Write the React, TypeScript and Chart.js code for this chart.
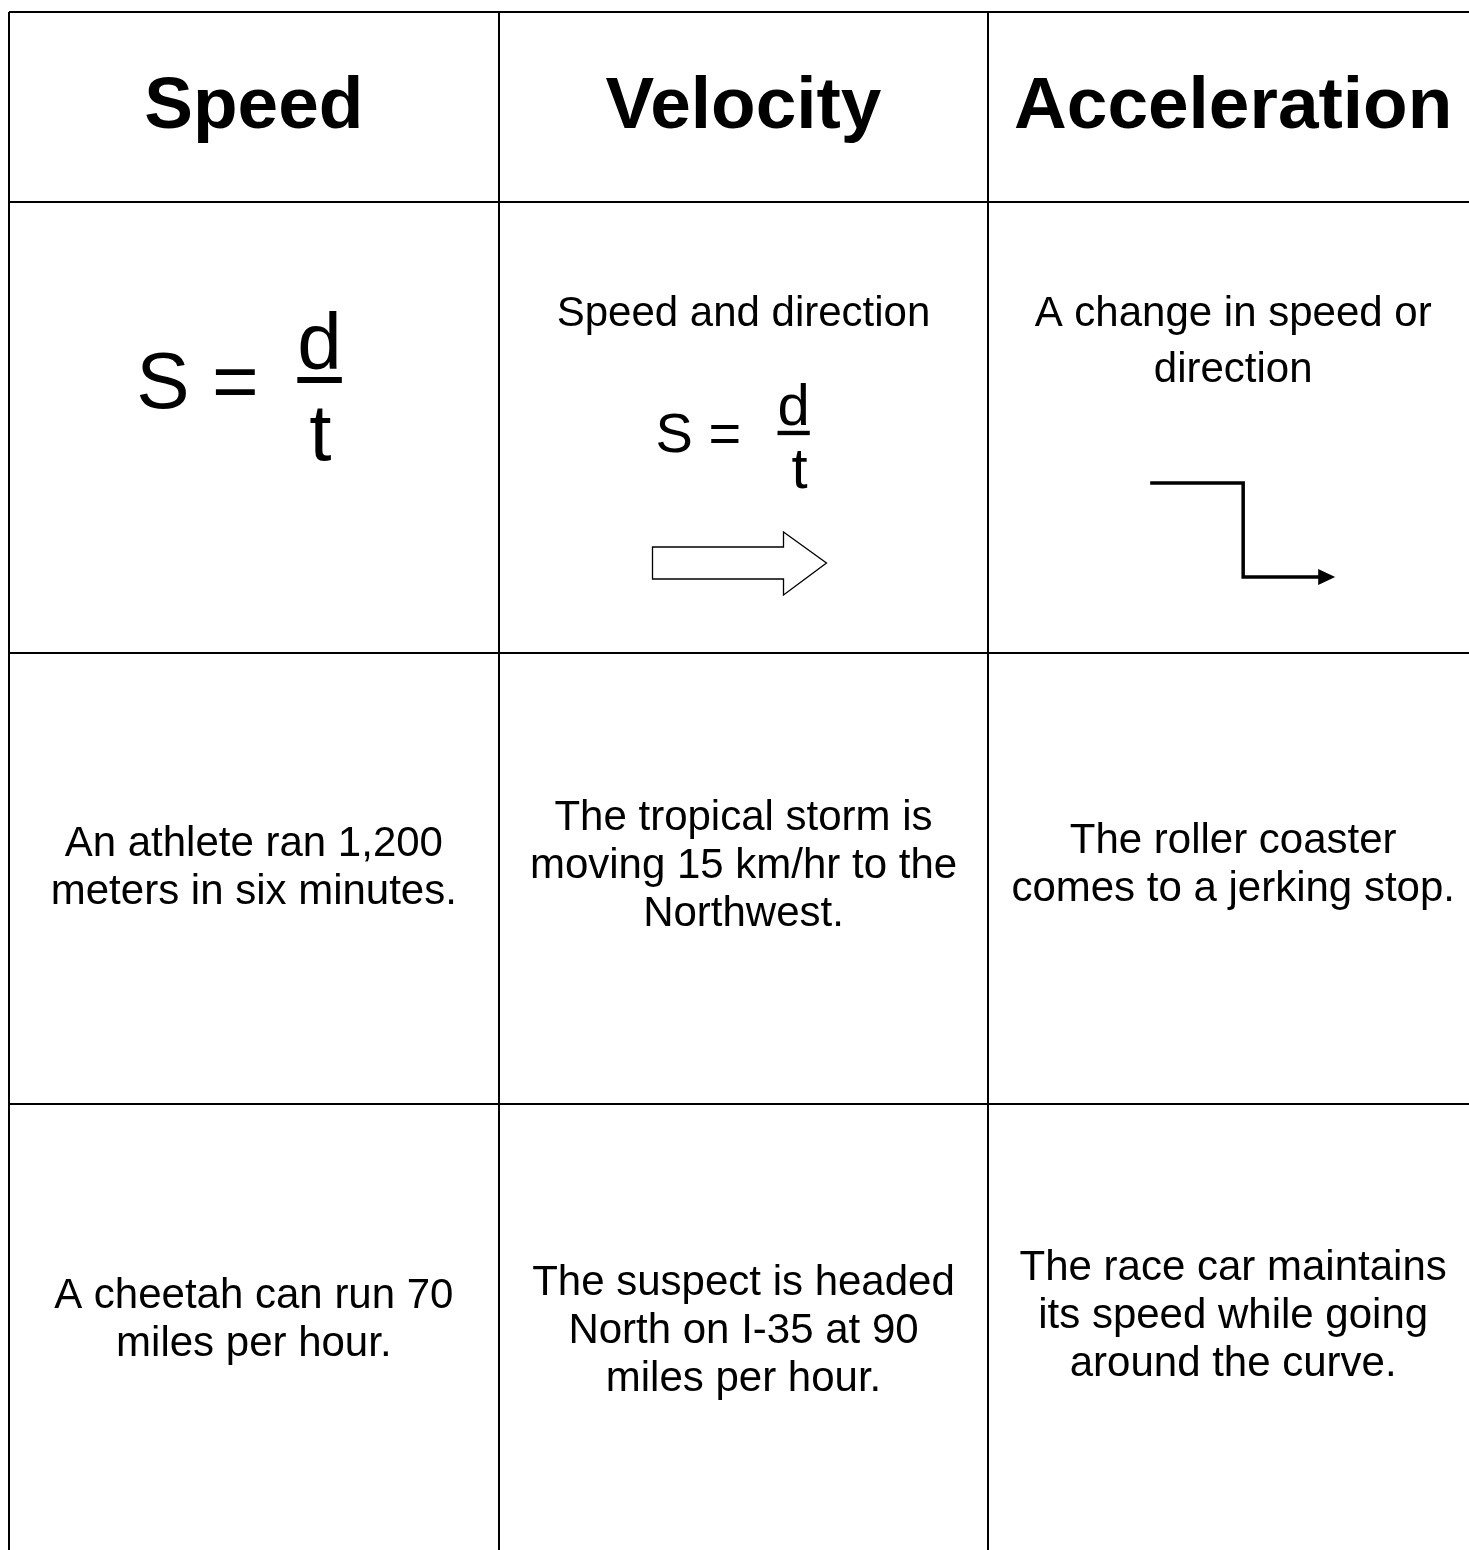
import React, { useEffect, useRef } from "react";
import { Chart, registerables } from "chart.js";

Chart.register(...registerables);

// ---------- data ----------
const columnHeaders = ["Speed", "Velocity", "Acceleration"];
const definitionLines: string[][] = [[], ["Speed and direction"], ["A change in speed or", "direction"]];
const exampleALines: string[][] = [
  ["An athlete ran 1,200", "meters in six minutes."],
  ["The tropical storm is", "moving 15 km/hr to the", "Northwest."],
  ["The roller coaster", "comes to a jerking stop."],
];
const exampleBLines: string[][] = [
  ["A cheetah can run 70", "miles per hour."],
  ["The suspect is headed", "North on I-35 at 90", "miles per hour."],
  ["The race car maintains", "its speed while going", "around the curve."],
];
const formulaParts = ["S =", "d", "t"];

// ---------- layout ----------
const ROW_HEIGHTS = [190, 451, 451, 451];
const FIRST_BASELINE = [
  [116, 116, 116],
  [0, 124, 124],
  [203, 177, 200],
  [204, 191, 176],
];
const LINE_HEIGHT = [0, 56, 48, 48];
const FONT = '"Liberation Sans", Arial, sans-serif';
const CANVAS_W = 1490;
const CANVAS_H = 1570;

const rowStarts: number[] = [];
ROW_HEIGHTS.reduce((acc, h) => {
  rowStarts.push(acc);
  return acc + h;
}, 0);
const totalHeight = ROW_HEIGHTS.reduce((a, b) => a + b, 0);
const rowBoundaries = [...rowStarts, totalHeight];

const bodyRows = [columnHeaders.map((h) => [h]), definitionLines, exampleALines, exampleBLines];

const cellPoints = bodyRows.flatMap((row, r) =>
  row.map((_, c) => ({ x: c + 0.5, y: rowStarts[r] + ROW_HEIGHTS[r] / 2 }))
);

function drawFormula(
  ctx: CanvasRenderingContext2D,
  cx: number,
  top: number,
  size: number,
  fracSize: number,
  sDx: number,
  sBase: number,
  dDx: number,
  dBase: number,
  tDx: number,
  tBase: number
) {
  ctx.fillStyle = "#000";
  ctx.textAlign = "left";
  ctx.textBaseline = "alphabetic";
  ctx.font = `${size}px ${FONT}`;
  ctx.fillText(formulaParts[0], cx + sDx, top + sBase);
  ctx.font = `${fracSize}px ${FONT}`;
  const dx = cx + dDx;
  ctx.fillText(formulaParts[1], dx, top + dBase);
  const dw = ctx.measureText(formulaParts[1]).width;
  ctx.fillRect(dx, top + dBase + 0.1 * fracSize, dw, 0.075 * fracSize);
  ctx.textAlign = "center";
  ctx.fillText(formulaParts[2], cx + tDx, top + tBase);
}

const tablePlugin = {
  id: "tableText",
  afterDraw(chart: any) {
    const ctx: CanvasRenderingContext2D = chart.ctx;
    const ys = chart.scales.y;
    const meta = chart.getDatasetMeta(0);
    ctx.save();
    let idx = 0;
    bodyRows.forEach((row, r) => {
      row.forEach((lines, c) => {
        const el = meta.data[idx++];
        const cx = el.x;
        const top = ys.getPixelForValue(rowStarts[r]);
        ctx.fillStyle = "#000";
        ctx.strokeStyle = "#000";
        ctx.textAlign = "center";
        ctx.textBaseline = "alphabetic";
        if (r === 0) {
          ctx.font = `bold 73px ${FONT}`;
          ctx.fillText(lines[0], cx, top + FIRST_BASELINE[r][c]);
          return;
        }
        ctx.font = `42px ${FONT}`;
        lines.forEach((line, i) => {
          ctx.fillText(line, cx, top + FIRST_BASELINE[r][c] + i * LINE_HEIGHT[r]);
        });
        if (r === 1 && c === 0) {
          drawFormula(ctx, cx, top, 80, 80, -117.5, 206, 43.5, 167, 66.5, 258);
        }
        if (r === 1 && c === 1) {
          drawFormula(ctx, cx, top, 56, 58, -88, 250, 34, 223, 56, 286);
          // outlined block arrow
          ctx.beginPath();
          ctx.moveTo(cx - 91, top + 345);
          ctx.lineTo(cx + 40, top + 345);
          ctx.lineTo(cx + 40, top + 330);
          ctx.lineTo(cx + 83, top + 361);
          ctx.lineTo(cx + 40, top + 393);
          ctx.lineTo(cx + 40, top + 377);
          ctx.lineTo(cx - 91, top + 377);
          ctx.closePath();
          ctx.fillStyle = "#fff";
          ctx.fill();
          ctx.lineWidth = 1.3;
          ctx.strokeStyle = "#000";
          ctx.lineJoin = "miter";
          ctx.stroke();
        }
        if (r === 1 && c === 2) {
          ctx.beginPath();
          ctx.lineWidth = 3.5;
          ctx.lineJoin = "miter";
          ctx.lineCap = "butt";
          ctx.strokeStyle = "#000";
          ctx.moveTo(cx - 83, top + 281);
          ctx.lineTo(cx + 10, top + 281);
          ctx.lineTo(cx + 10, top + 375);
          ctx.lineTo(cx + 87, top + 375);
          ctx.stroke();
          ctx.beginPath();
          ctx.fillStyle = "#000";
          ctx.moveTo(cx + 85, top + 367);
          ctx.lineTo(cx + 102, top + 375);
          ctx.lineTo(cx + 85, top + 383);
          ctx.closePath();
          ctx.fill();
        }
      });
    });
    ctx.restore();
  },
};

export default function App() {
  const canvasRef = useRef<HTMLCanvasElement | null>(null);

  useEffect(() => {
    const canvas = canvasRef.current;
    if (!canvas) return;
    const chart = new Chart(canvas, {
      type: "scatter",
      data: {
        datasets: [
          {
            data: cellPoints,
            pointRadius: 0,
            pointHoverRadius: 0,
            showLine: false,
          },
        ],
      },
      options: {
        animation: false,
        responsive: false,
        devicePixelRatio: 1,
        events: [],
        layout: { padding: { left: 9, top: 12, right: CANVAS_W - 1478, bottom: CANVAS_H - 1555 } },
        plugins: { legend: { display: false }, tooltip: { enabled: false } },
        scales: {
          x: {
            type: "linear",
            min: 0,
            max: columnHeaders.length,
            afterBuildTicks: (scale: any) => {
              scale.ticks = columnHeaders.map((_, i) => ({ value: i })).concat([{ value: columnHeaders.length }]);
            },
            ticks: { display: false },
            grid: { color: "#000", lineWidth: 2, drawTicks: false },
            border: { display: false },
          },
          y: {
            type: "linear",
            reverse: true,
            min: 0,
            max: totalHeight,
            afterBuildTicks: (scale: any) => {
              scale.ticks = rowBoundaries.map((v) => ({ value: v }));
            },
            ticks: { display: false },
            grid: { color: "#000", lineWidth: 2, drawTicks: false },
            border: { display: false },
          },
        },
      },
      plugins: [tablePlugin],
    });
    return () => chart.destroy();
  }, []);

  return (
    <div
      style={{
        position: "fixed",
        left: 0,
        top: 0,
        width: 1469,
        height: 1550,
        overflow: "hidden",
        background: "#fff",
      }}
    >
      <canvas
        ref={canvasRef}
        width={CANVAS_W}
        height={CANVAS_H}
        style={{ display: "block", width: CANVAS_W, height: CANVAS_H }}
      />
    </div>
  );
}
